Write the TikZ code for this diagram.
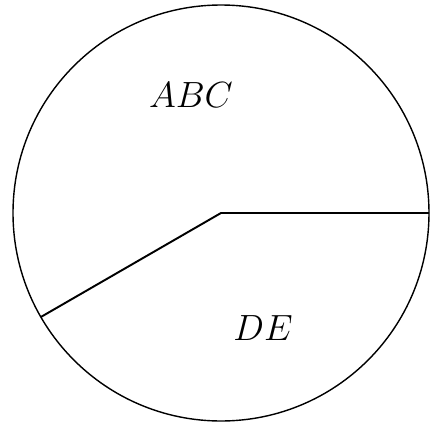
\documentclass[tikz,border=0pt]{standalone}
\begin{document}
\begin{tikzpicture}
    \useasboundingbox (-4.42,-4.22) rectangle (4.18,4.26);
    \coordinate (O) at (0,0);
    \coordinate (R) at (0:4.16);
    \coordinate (L) at (210:4.16);
    \draw[line width=0.8pt] (O) circle (4.16);
    \draw[line width=1.1pt] (L) -- (O) -- (R);
    \node (abc) at (-0.6,2.36) {\fontsize{20}{24}\selectfont $ABC$};
    \node (de) at (0.84,-2.3) {\fontsize{20}{24}\selectfont $DE$};
\end{tikzpicture}
\end{document}
